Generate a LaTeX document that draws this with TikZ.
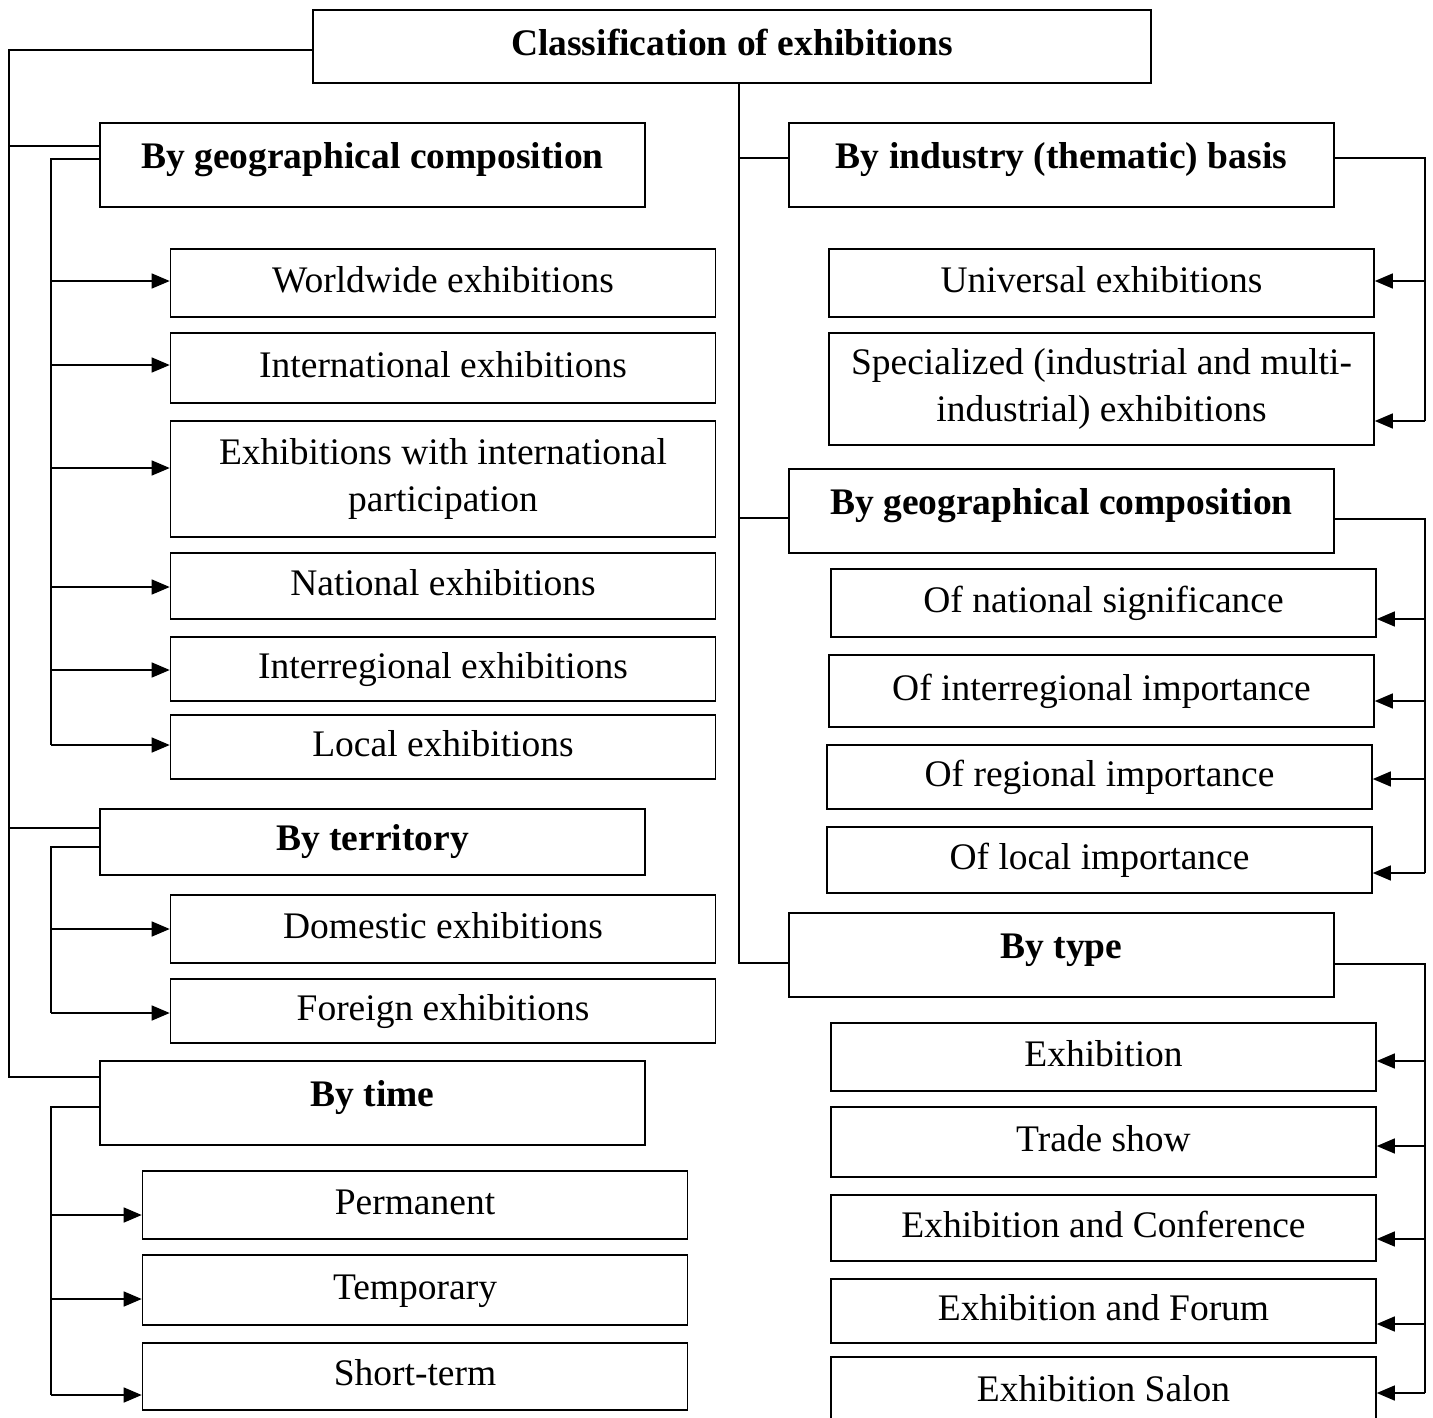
\documentclass[tikz,border=0pt]{standalone}
\usepackage{fontspec}
\setmainfont{Liberation Serif}
\usetikzlibrary{arrows.meta,calc}
\newcommand{\boxfont}{\fontsize{37.5}{46.5}\selectfont}

\begin{document}
\begin{tikzpicture}[x=1pt,y=1pt,yscale=-1,xscale=1,
  frame/.style={draw, line width=1.6pt, inner sep=0pt, minimum width=545pt, align=center, font=\boxfont},
  box/.style={frame, text height=25pt, text depth=7pt},
  head/.style={frame, text height=25pt, text depth=8pt, font=\boxfont\bfseries},
  tallhead/.style={head, text depth=19pt},
  trunk/.style={line width=2.8pt},
  arr/.style={line width=1.4pt, -{Triangle[length=18pt,width=15pt]}}]
\useasboundingbox (0,0) rectangle (1433,1417);

% Root
\node[head, minimum width=838pt, minimum height=73pt] (root) at (732,46.5) {Classification of exhibitions};

% Left headers
\node[tallhead, minimum height=84pt] (geo) at (372.5,165) {By geographical composition};
\node[head, minimum height=66pt] (ter) at (372.5,842) {By territory};
\node[tallhead, minimum height=84pt] (tim) at (372.5,1103) {By time};

% Right headers
\node[tallhead, minimum height=84pt] (ind) at (1061.5,165) {By industry (thematic) basis};
\node[tallhead, minimum height=84pt] (geb) at (1061.5,511) {By geographical composition};
\node[tallhead, minimum height=84pt] (typ) at (1061.5,955) {By type};

% Left items
\node[box, minimum height=68pt] (wor) at (443,283) {Worldwide exhibitions};
\node[box, minimum height=70pt] (int) at (443,368) {International exhibitions};
\node[frame, minimum height=116pt] (par) at (443,479) {Exhibitions with international\\participation};
\node[box, minimum height=66pt] (nat) at (443,586) {National exhibitions};
\node[box, minimum height=64pt] (reg) at (443,669) {Interregional exhibitions};
\node[box, minimum height=64pt] (loc) at (443,747) {Local exhibitions};
\node[box, minimum height=68pt] (dom) at (443,929) {Domestic exhibitions};
\node[box, minimum height=64pt] (for) at (443,1011) {Foreign exhibitions};
\node[box, minimum height=68pt] (per) at (415,1205) {Permanent};
\node[box, minimum height=70pt] (tem) at (415,1290) {Temporary};
\node[box, minimum height=67pt] (sho) at (415,1376.5) {Short-term};

% Right items
\node[box, minimum height=68pt] (uni) at (1101.5,283) {Universal exhibitions};
\node[frame, minimum height=112pt] (spe) at (1101.5,389) {Specialized (industrial and multi-\\industrial) exhibitions};
\node[box, minimum height=68pt] (ons) at (1103.5,603) {Of national significance};
\node[box, minimum height=72pt] (oir) at (1101.5,691) {Of interregional importance};
\node[box, minimum height=64pt] (org) at (1099.5,777) {Of regional importance};
\node[box, minimum height=66pt] (olo) at (1099.5,860) {Of local importance};
\node[box, minimum height=68pt] (exh) at (1103.5,1057) {Exhibition};
\node[box, minimum height=70pt] (trd) at (1103.5,1142) {Trade show};
\node[box, minimum height=66pt] (con) at (1103.5,1228) {Exhibition and Conference};
\node[box, minimum height=64pt] (frm) at (1103.5,1311) {Exhibition and Forum};
\node[box, minimum height=70pt] (sal) at (1103.5,1392) {Exhibition Salon};

% Bus lines
\coordinate (lx) at (9,0);
\coordinate (ix) at (51,0);
\coordinate (rx) at (1425,0);

%Outer left bus
\path ($(root.west)+(0,3.5)$) coordinate (j);
\path ($(tim.west)+(0,-26)$) coordinate (k);
\draw[trunk] (j) -| (k -| lx) -- (k);
\foreach \n/\d in {geo/-19,ter/-14}{
  \path ($(\n.west)+(0,\d)$) coordinate (j);
  \draw[trunk] (j -| lx) -- (j);
}

%Centre bus
\path ($(root.south)+(7,0)$) coordinate (cx);
\path ($(typ.west)+(0,8)$) coordinate (k);
\draw[trunk] (cx) |- (k);
\foreach \n/\d in {ind/-7,geb/7}{
  \path ($(\n.west)+(0,\d)$) coordinate (j);
  \draw[trunk] (j -| cx) -- (j);
}

%Inner left buses
\foreach \h/\hd/\l/\ld in {geo/-6/loc/-2,ter/5/for/2,tim/4/sho/18.5}{
  \path ($(\h.west)+(0,\hd)$) coordinate (j);
  \path ($(\l.west)+(0,\ld)$) coordinate (k);
  \draw[trunk] (j) -| (k -| ix);
}
\foreach \n/\d in {wor/-2,int/-3,par/-11,nat/1,reg/1,loc/-2,dom/0,for/2,per/10,tem/9,sho/18.5}{
  \path ($(\n.west)+(0,\d)$) coordinate (t);
  \draw[arr] (t -| ix) -- (t);
}

%Right buses
\foreach \h/\hd/\l/\ld in {ind/-7/spe/32,geb/8/olo/13,typ/9/sal/1}{
  \path ($(\h.east)+(0,\hd)$) coordinate (j);
  \path ($(\l.east)+(0,\ld)$) coordinate (k);
  \draw[trunk] (j) -| (k -| rx);
}
\foreach \n/\d in {uni/-2,spe/32,ons/16,oir/10,org/2,olo/13,exh/4,trd/4,con/11,frm/13,sal/1}{
  \path ($(\n.east)+(0,\d)$) coordinate (t);
  \draw[arr] (t -| rx) -- (t);
}

\end{tikzpicture}
\end{document}
